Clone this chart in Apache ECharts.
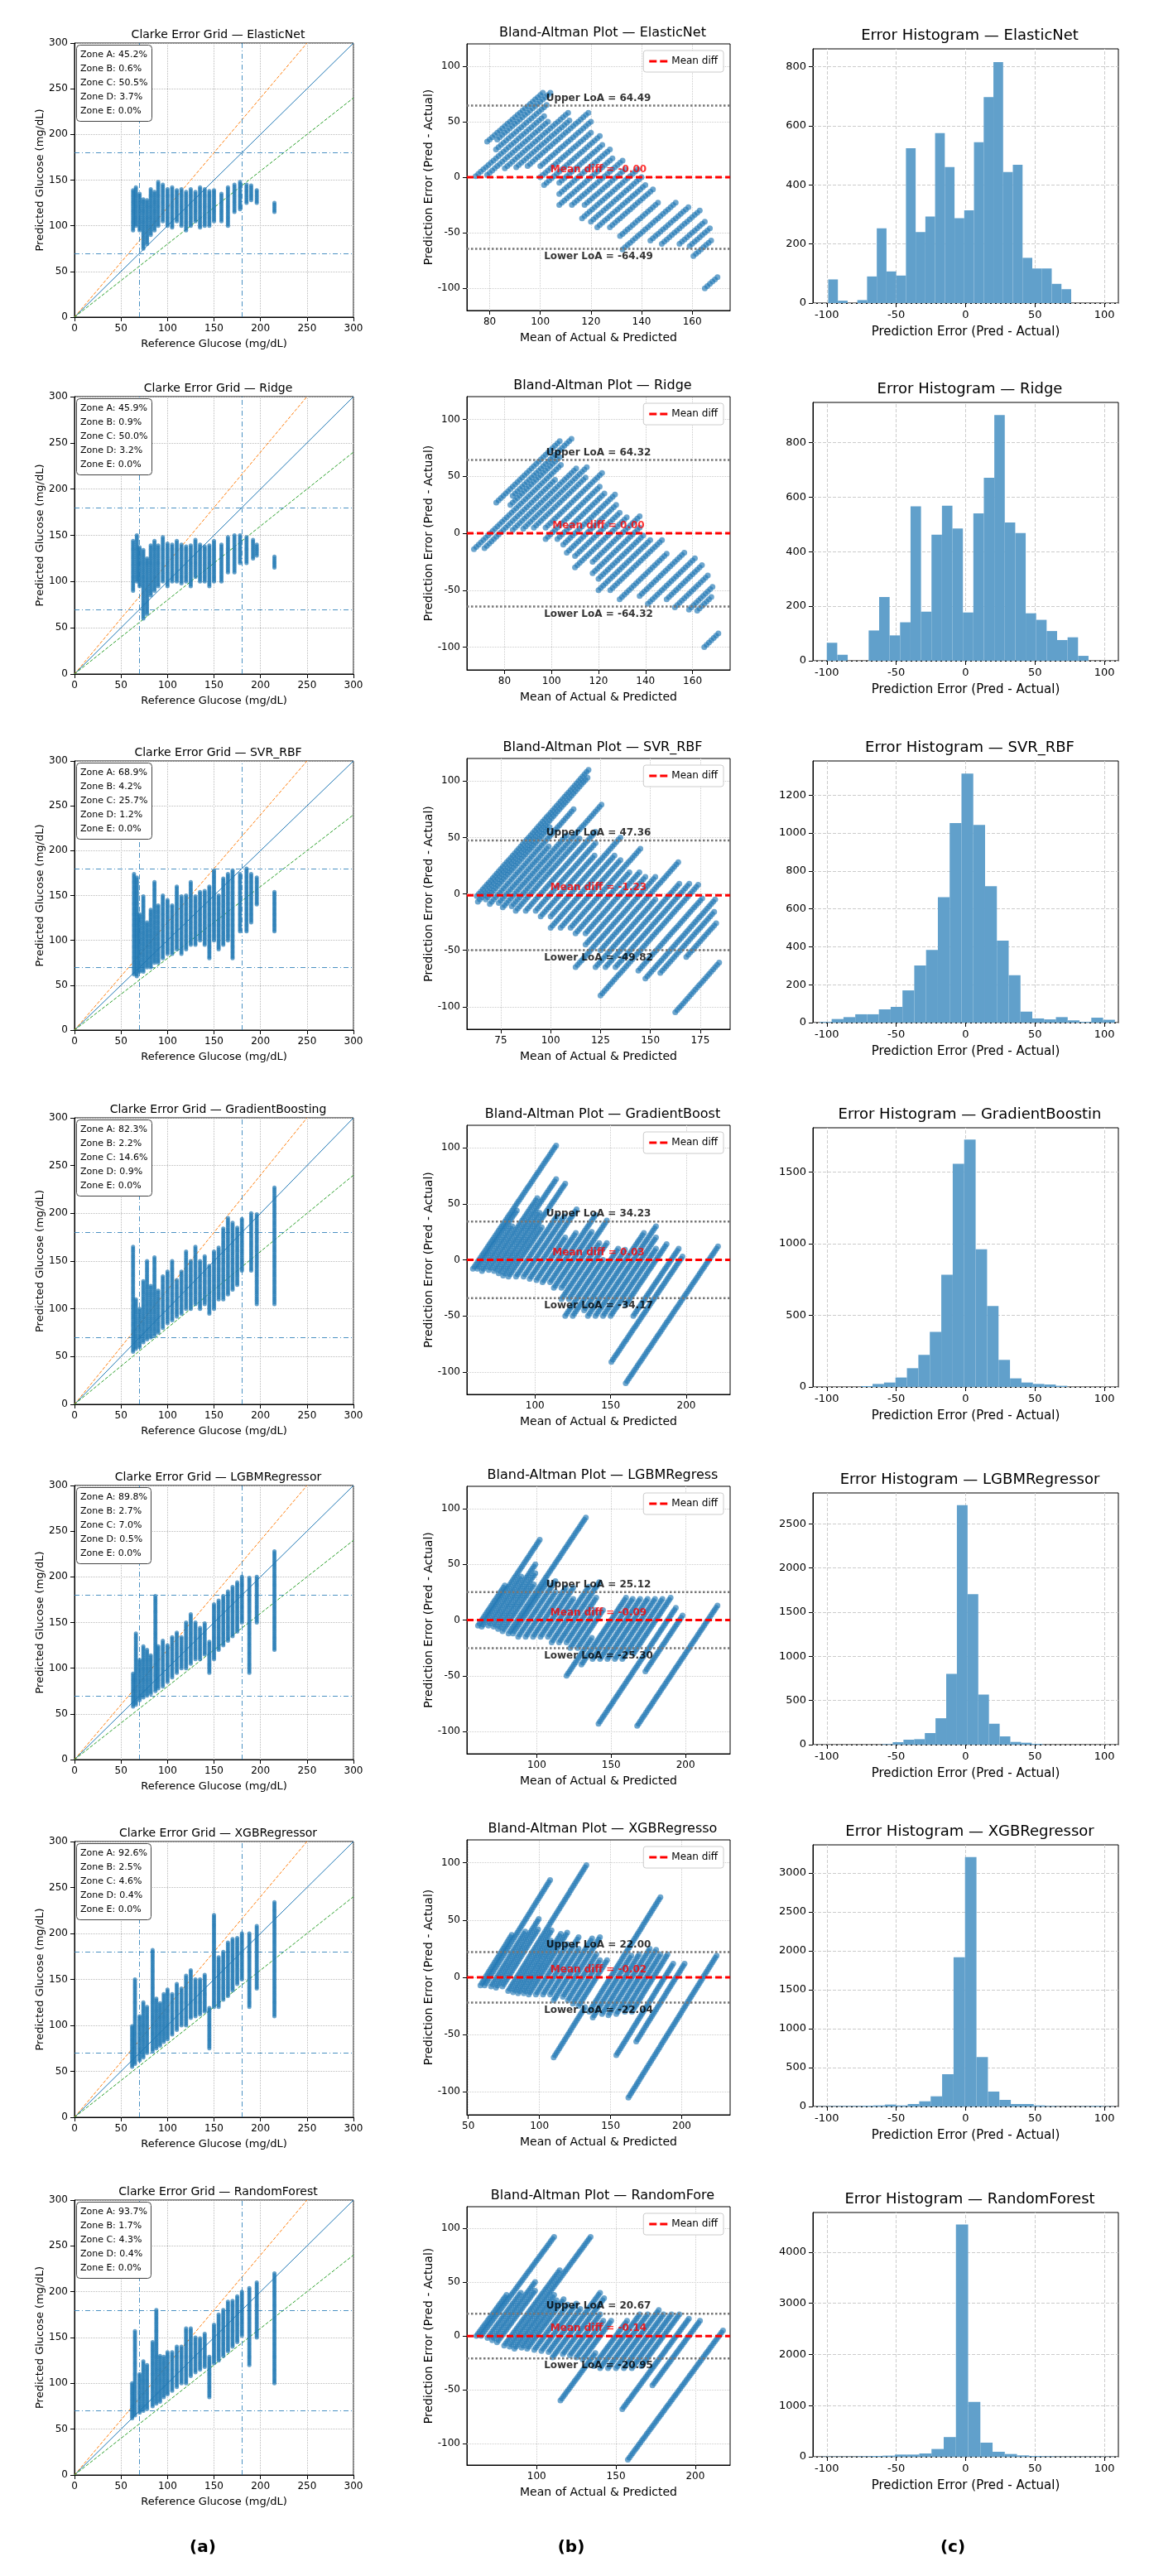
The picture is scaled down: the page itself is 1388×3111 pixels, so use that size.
<!DOCTYPE html>
<html>
<head>
<meta charset="utf-8">
<script src="https://cdn.jsdelivr.net/npm/echarts@6/dist/echarts.min.js"></script>
<style>
html,body{margin:0;padding:0;background:#fff;}
#container{width:1388px;height:3111px;}
</style>
</head>
<body>
<div id="container"></div>
<script>
// model names and stats
var models = ['ElasticNet','Ridge','SVR_RBF','GradientBoosting','LGBMRegressor','XGBRegressor','RandomForest'];
var baTitles = ['ElasticNet','Ridge','SVR_RBF','GradientBoost','LGBMRegress','XGBRegresso','RandomFore'];
var histTitles = ['ElasticNet','Ridge','SVR_RBF','GradientBoostin','LGBMRegressor','XGBRegressor','RandomForest'];
var zones = [
  [45.2,0.6,50.5,3.7,0.0],[45.9,0.9,50.0,3.2,0.0],[68.9,4.2,25.7,1.2,0.0],
  [82.3,2.2,14.6,0.9,0.0],[89.8,2.7,7.0,0.5,0.0],[92.6,2.5,4.6,0.4,0.0],[93.7,1.7,4.3,0.4,0.0]
];
var meanDiff = ['-0.00','0.00','-1.23','0.03','-0.09','-0.02','-0.14'];
var upperLoA = ['64.49','64.32','47.36','34.23','25.12','22.00','20.67'];
var lowerLoA = ['-64.49','-64.32','-49.82','-34.17','-25.30','-22.04','-20.95'];

// scatter streaks: [reference glucose, lowest predicted, highest predicted]
var streaksElasticNet = [[63,95,140],[66,100,142],[70,95,135],[74,75,130],[78,80,128],[82,90,140],[86,95,138],[90,100,148],[95,105,145],[100,100,140],[105,98,142],[110,105,140],[115,100,140],[120,95,138],[125,100,140],[130,105,138],[135,98,142],[140,100,140],[145,100,138],[150,105,140],[158,105,135],[165,100,142],[172,115,145],[178,118,148],[185,125,145],[190,128,145],[196,125,140],[215,115,125]];
var streaksRidge = [[63,90,145],[67,100,150],[70,95,138],[74,60,135],[78,65,125],[82,85,140],[86,90,145],[90,95,140],[95,100,148],[100,95,142],[105,100,140],[110,100,145],[115,98,140],[120,100,138],[125,95,140],[130,105,145],[135,100,140],[140,100,138],[145,95,140],[150,100,145],[158,100,140],[165,110,148],[172,110,150],[178,120,150],[185,120,148],[192,125,145],[196,128,140],[215,115,128]];
var streaksSVR = [[64,62,175],[67,60,170],[70,65,130],[74,65,150],[78,70,120],[82,70,135],[86,75,165],[90,75,140],[95,80,150],[100,85,145],[105,85,140],[110,90,160],[115,85,150],[120,90,150],[125,95,165],[130,95,150],[135,100,155],[140,95,155],[145,80,160],[150,100,178],[155,90,150],[160,95,170],[165,100,175],[170,80,178],[178,110,175],[185,110,180],[190,120,175],[196,140,170],[215,110,155]];
var streaksGB = [[63,55,165],[66,58,110],[70,60,100],[74,65,130],[78,68,150],[82,70,125],[86,72,155],[90,75,120],[95,80,135],[100,85,140],[105,88,150],[110,92,130],[115,95,140],[120,100,160],[125,100,150],[130,105,165],[135,100,150],[140,105,155],[145,95,145],[150,100,160],[155,110,165],[160,110,185],[165,115,195],[170,120,190],[175,125,185],[180,140,195],[190,140,200],[196,105,200],[215,105,228]];
var streaksLGBM = [[63,58,95],[66,60,138],[70,65,110],[74,68,125],[78,70,120],[82,72,115],[87,75,180],[90,78,125],[95,80,130],[100,85,125],[105,90,135],[110,95,140],[115,100,135],[120,100,150],[125,105,160],[130,110,150],[135,110,145],[140,115,150],[145,95,130],[150,110,170],[155,120,175],[160,125,180],[165,130,185],[170,135,190],[175,140,195],[180,150,200],[188,95,200],[196,150,200],[215,120,228]];
var streaksXGB = [[62,55,100],[65,58,150],[70,62,110],[74,65,125],[78,70,120],[84,72,183],[88,75,130],[92,78,125],[96,82,135],[100,85,140],[105,90,135],[110,95,145],[115,100,140],[120,100,155],[125,108,160],[130,110,150],[135,112,150],[140,115,155],[145,75,120],[150,120,220],[155,120,175],[160,128,180],[165,132,190],[170,138,195],[175,145,195],[180,150,200],[188,120,200],[196,140,208],[215,110,235]];
var streaksRF = [[62,62,100],[65,65,158],[70,68,110],[74,70,125],[78,72,120],[84,75,145],[88,78,180],[92,80,130],[96,85,130],[100,88,135],[105,92,135],[110,96,140],[115,100,140],[120,100,160],[125,108,160],[130,112,150],[135,115,150],[140,118,155],[145,85,130],[150,122,165],[155,125,175],[160,130,180],[165,135,190],[170,140,190],[175,145,195],[180,152,200],[188,120,205],[196,150,210],[215,100,220]];
var streaks = [streaksElasticNet,streaksRidge,streaksSVR,streaksGB,streaksLGBM,streaksXGB,streaksRF];

// histograms: first bin edge, bin width, counts
var histStart = [-99,-100,-105,-75.3,-60.2,-107.7,-103.8];
var histWidth = [7.0,7.54,8.5,8.25,7.7,8.25,8.8];
var histElasticNet = [80,8,0,10,90,253,107,93,524,240,293,575,460,287,314,544,697,815,443,468,153,117,117,65,47];
var histRidge = [66,22,0,0,111,234,93,141,566,180,462,568,485,177,540,671,901,507,468,174,150,109,76,86,18];
var histSVR = [4,19,29,44,44,70,83,170,301,383,662,1052,1313,1043,720,432,250,58,22,17,29,12,4,26,15];
var histGB = [6,21,31,66,131,224,384,783,1558,1727,962,565,189,60,31,21,17,8];
var histLGBM = [6,28,56,62,131,299,801,2712,1705,567,237,94,31,22,9];
var histXGB = [3,5,7,7,10,14,25,14,32,67,131,415,1917,3202,635,192,85,32,32,14,7,3,2,5,8,3];
var histRF = [5,5,5,10,16,22,43,43,65,152,385,4542,1073,276,98,54,27,16,10,5,5,4,4,3];
var histCounts = [histElasticNet,histRidge,histSVR,histGB,histLGBM,histXGB,histRF];
var histMax = [860,947,1380,1810,2850,3360,4775];
var histTicks = [[0,200,400,600,800],[0,200,400,600,800],[0,200,400,600,800,1000,1200],[0,500,1000,1500],[0,500,1000,1500,2000,2500],[0,500,1000,1500,2000,2500,3000],[0,1000,2000,3000,4000]];

// Bland-Altman x ranges and ticks
var baXRange = [[71,175],[64,176],[58,190],[55,229],[53,230],[49,234],[56,222]];
var baXTicks = [[80,100,120,140,160],[80,100,120,140,160],[75,100,125,150,175],[100,150,200],[100,150,200],[50,100,150,200],[100,150,200]];

// panel layout (px)
var clarkeY = [[52,383],[479,814],[919,1244],[1350,1696],[1794,2125],[2224,2557],[2657,2989]];
var baY = [[53,375],[479,809],[916,1243],[1359,1684],[1795,2118],[2222,2554],[2665,2977]];
var histY = [[59,366],[486,798],[919,1235],[1362,1675],[1803,2107],[2228,2544],[2672,2967]];
var W = 1388, H = 3111;
var CX = [90,427], BX = [564,882], HX = [982,1351];

var blue = '#1f77b4';
var tickFont = {fontFamily:'DejaVu Sans', fontSize:12, color:'#000', formatter:function (v) { return String(v); }};
var splitDotted = {show:true, lineStyle:{type:'dotted', color:'#bbb', width:1}};

var dom = document.getElementById('container');
var myChart = echarts.init(dom, null, {renderer:'canvas'});

var grids = [], xAxes = [], yAxes = [], series = [], titles = [], legends = [];

function addGrid(x, y) {
  grids.push({left:x[0], top:y[0], width:x[1]-x[0], height:y[1]-y[0], show:true, borderColor:'#000', borderWidth:1, containLabel:false});
  return grids.length - 1;
}

for (var i = 0; i < models.length; i++) {
  var clarkePts = [], baPts = [];
  streaks[i].forEach(function (s) {
    for (var p = s[1]; p <= s[2]; p += 2) {
      clarkePts.push([s[0], p]);
      baPts.push([(s[0] + p) / 2, p - s[0]]);
    }
  });

  // ---- Clarke error grid
  var g = addGrid(CX, clarkeY[i]);
  xAxes.push({gridIndex:g, type:'value', min:0, max:300, interval:50,
    axisLine:{onZero:false, lineStyle:{color:'#000'}}, axisTick:{lineStyle:{color:'#000'}},
    axisLabel:tickFont, splitLine:splitDotted,
    name:'Reference Glucose (mg/dL)', nameLocation:'middle', nameGap:26,
    nameTextStyle:{fontFamily:'DejaVu Sans', fontSize:13, color:'#000'}});
  yAxes.push({gridIndex:g, type:'value', min:0, max:300, interval:50,
    axisLine:{onZero:false, lineStyle:{color:'#000'}}, axisTick:{lineStyle:{color:'#000'}},
    axisLabel:tickFont, splitLine:splitDotted,
    name:'Predicted Glucose (mg/dL)', nameLocation:'middle', nameGap:34,
    nameTextStyle:{fontFamily:'DejaVu Sans', fontSize:13, color:'#000'}});
  titles.push({text:'Clarke Error Grid — ' + models[i], left:(CX[0]+CX[1])/2, top:clarkeY[i][0]-22, textAlign:'center',
    textStyle:{fontFamily:'DejaVu Sans', fontSize:14, fontWeight:'normal', color:'#000'}});
  var z = zones[i];
  titles.push({text:'Zone A: '+z[0].toFixed(1)+'%\nZone B: '+z[1].toFixed(1)+'%\nZone C: '+z[2].toFixed(1)+'%\nZone D: '+z[3].toFixed(1)+'%\nZone E: '+z[4].toFixed(1)+'%',
    left:CX[0]+2, top:clarkeY[i][0]+2, padding:[4,5,4,5], borderColor:'#444', borderWidth:1, borderRadius:4, backgroundColor:'#fff',
    textStyle:{fontFamily:'DejaVu Sans', fontSize:11, fontWeight:'normal', color:'#000', lineHeight:17}});
  series.push({type:'line', xAxisIndex:g, yAxisIndex:g, data:[[0,0],[300,300]], symbol:'none', silent:true,
    lineStyle:{color:blue, width:1}, z:3,
    markLine:{silent:true, symbol:'none', label:{show:false},
      lineStyle:{color:blue, width:1, type:[6,3,1,3], opacity:0.8},
      data:[{xAxis:70},{xAxis:180},{yAxis:70},{yAxis:180}]}});
  series.push({type:'line', xAxisIndex:g, yAxisIndex:g, data:[[0,0],[250,300]], symbol:'none', silent:true,
    lineStyle:{color:'#ff7f0e', width:1, type:'dashed'}, z:3});
  series.push({type:'line', xAxisIndex:g, yAxisIndex:g, data:[[0,0],[300,240]], symbol:'none', silent:true,
    lineStyle:{color:'#2ca02c', width:1, type:'dashed'}, z:3});
  series.push({type:'scatter', xAxisIndex:g, yAxisIndex:g, data:clarkePts, symbolSize:5, large:true,
    itemStyle:{color:blue, opacity:0.7}, z:4});

  // ---- Bland-Altman
  g = addGrid(BX, baY[i]);
  var xr = baXRange[i];
  xAxes.push({gridIndex:g, type:'value', min:xr[0], max:xr[1],
    axisLine:{onZero:false, lineStyle:{color:'#000'}},
    axisTick:{customValues:baXTicks[i], lineStyle:{color:'#000'}},
    axisLabel:Object.assign({customValues:baXTicks[i]}, tickFont),
    splitLine:{show:false},
    name:'Mean of Actual & Predicted', nameLocation:'middle', nameGap:26,
    nameTextStyle:{fontFamily:'DejaVu Sans', fontSize:14, color:'#000'}});
  yAxes.push({gridIndex:g, type:'value', min:-120, max:120,
    axisLine:{onZero:false, lineStyle:{color:'#000'}},
    axisTick:{customValues:[-100,-50,0,50,100], lineStyle:{color:'#000'}},
    axisLabel:Object.assign({customValues:[-100,-50,0,50,100]}, tickFont),
    splitLine:{show:false},
    name:'Prediction Error (Pred - Actual)', nameLocation:'middle', nameGap:38,
    nameTextStyle:{fontFamily:'DejaVu Sans', fontSize:14, color:'#000'}});
  titles.push({text:'Bland-Altman Plot — ' + baTitles[i], left:(BX[0]+BX[1])/2, top:baY[i][0]-26, textAlign:'center',
    textStyle:{fontFamily:'DejaVu Sans', fontSize:16, fontWeight:'normal', color:'#000'}});
  // light grid drawn as mark lines
  var gl = baXTicks[i].map(function (v) { return {xAxis:v}; }).concat([-100,-50,0,50,100].map(function (v) { return {yAxis:v}; }));
  series.push({type:'scatter', xAxisIndex:g, yAxisIndex:g, data:baPts, symbolSize:7, large:true,
    itemStyle:{color:blue, opacity:0.65}, z:4,
    markLine:{silent:true, symbol:'none', label:{show:false}, z:1, lineStyle:{color:'#ccc', type:'dotted', width:1}, data:gl}});
  var up = parseFloat(upperLoA[i]), lo = parseFloat(lowerLoA[i]), md = parseFloat(meanDiff[i]);
  series.push({type:'line', xAxisIndex:g, yAxisIndex:g, data:[[xr[0],up],[xr[1],up]], symbol:'none', silent:true,
    lineStyle:{color:'#777', width:2.5, type:'dotted'}, z:5});
  series.push({type:'line', xAxisIndex:g, yAxisIndex:g, data:[[xr[0],lo],[xr[1],lo]], symbol:'none', silent:true,
    lineStyle:{color:'#777', width:2.5, type:'dotted'}, z:5});
  series.push({type:'line', name:'Mean diff', xAxisIndex:g, yAxisIndex:g, data:[[xr[0],md],[xr[1],md]], symbol:'none', silent:true,
    lineStyle:{color:'#ff0000', width:3, type:[8,4]}, itemStyle:{color:'#ff0000'}, z:6});
  var mid = (xr[0] + xr[1]) / 2;
  series.push({type:'scatter', xAxisIndex:g, yAxisIndex:g, symbolSize:0, silent:true, z:7,
    data:[
      {value:[mid, up], label:{show:true, position:'top', distance:3, formatter:'Upper LoA = ' + upperLoA[i], color:'#000'}},
      {value:[mid, md], label:{show:true, position:'top', distance:3, formatter:'Mean diff = ' + meanDiff[i], color:'#ff0000'}},
      {value:[mid, lo], label:{show:true, position:'bottom', distance:3, formatter:'Lower LoA = ' + lowerLoA[i], color:'#000'}}
    ],
    label:{fontFamily:'DejaVu Sans', fontSize:12, fontWeight:'bold'}});
  legends.push({data:['Mean diff'], right:W - BX[1] + 8, top:baY[i][0] + 8, orient:'vertical',
    icon:'path://M0,4H9V7H0Z M13,4H22V7H13Z',
    backgroundColor:'#fff', borderColor:'#ccc', borderWidth:1, borderRadius:3, padding:[7,7,7,7],
    itemWidth:22, itemHeight:6, textStyle:{fontFamily:'DejaVu Sans', fontSize:12, color:'#000'}});

  // ---- Histogram
  g = addGrid(HX, histY[i]);
  xAxes.push({gridIndex:g, type:'value', min:-110, max:110,
    axisLine:{onZero:false, lineStyle:{color:'#000'}},
    axisTick:{customValues:[-100,-50,0,50,100], lineStyle:{color:'#000'}},
    axisLabel:Object.assign({customValues:[-100,-50,0,50,100]}, tickFont, {fontSize:13}),
    splitLine:{show:false},
    name:'Prediction Error (Pred - Actual)', nameLocation:'middle', nameGap:28,
    nameTextStyle:{fontFamily:'DejaVu Sans', fontSize:15, color:'#000'}});
  yAxes.push({gridIndex:g, type:'value', min:0, max:histMax[i],
    axisLine:{onZero:false, lineStyle:{color:'#000'}},
    axisTick:{customValues:histTicks[i], lineStyle:{color:'#000'}},
    axisLabel:Object.assign({customValues:histTicks[i]}, tickFont, {fontSize:13}),
    splitLine:{show:false}});
  titles.push({text:'Error Histogram — ' + histTitles[i], left:(HX[0]+HX[1])/2, top:histY[i][0]-30, textAlign:'center',
    textStyle:{fontFamily:'DejaVu Sans', fontSize:18, fontWeight:'normal', color:'#000'}});
  var hg = [-100,-50,0,50,100].map(function (v) { return {xAxis:v}; }).concat(histTicks[i].map(function (v) { return {yAxis:v}; }));
  var bins = histCounts[i].map(function (c, k) {
    return [histStart[i] + k * histWidth[i], histStart[i] + (k + 1) * histWidth[i], c];
  });
  series.push({type:'custom', xAxisIndex:g, yAxisIndex:g, data:bins, silent:true, z:4,
    encode:{x:[0,1], y:2},
    renderItem:function (params, api) {
      var p0 = api.coord([api.value(0), api.value(2)]);
      var p1 = api.coord([api.value(1), 0]);
      return {type:'rect', shape:{x:p0[0], y:p0[1], width:p1[0]-p0[0], height:p1[1]-p0[1]},
        style:{fill:'#61a0cb'}};
    },
    markLine:{silent:true, symbol:'none', label:{show:false}, z:1, lineStyle:{color:'#ccc', type:'dashed', width:1}, data:hg}});
}

titles.push({text:'(a)', left:240, top:3062, textAlign:'center', textStyle:{fontFamily:'DejaVu Sans', fontSize:20, fontWeight:'bold', color:'#000'}});
titles.push({text:'(b)', left:685, top:3062, textAlign:'center', textStyle:{fontFamily:'DejaVu Sans', fontSize:20, fontWeight:'bold', color:'#000'}});
titles.push({text:'(c)', left:1146, top:3062, textAlign:'center', textStyle:{fontFamily:'DejaVu Sans', fontSize:20, fontWeight:'bold', color:'#000'}});

myChart.setOption({
  animation:false,
  backgroundColor:'#fff',
  title:titles,
  legend:legends,
  grid:grids,
  xAxis:xAxes,
  yAxis:yAxes,
  series:series
});

window.addEventListener('resize', function () {
  myChart.resize();
});
</script>
</body>
</html>
